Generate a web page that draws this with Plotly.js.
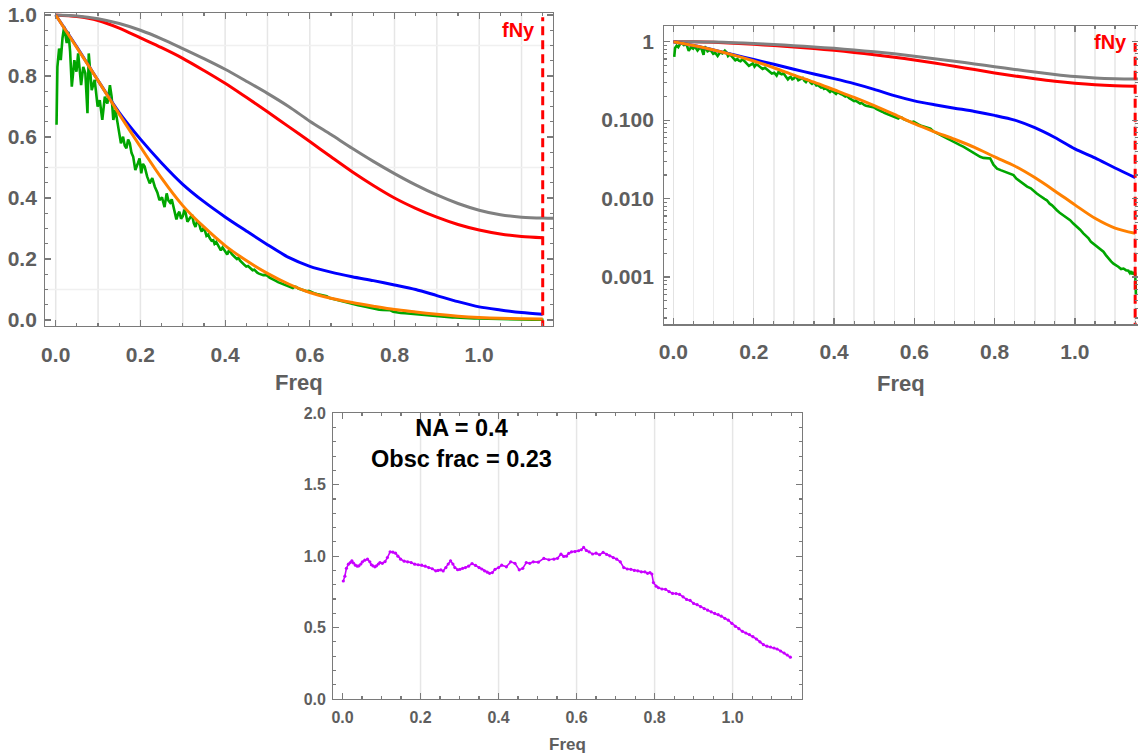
<!DOCTYPE html>
<html>
<head>
<meta charset="utf-8">
<script src="https://cdn.plot.ly/plotly-3.0.1.min.js"></script>
<style>html,body{margin:0;padding:0;background:#fff}#chart{width:1138px;height:756px}</style>
</head>
<body>
<div id="chart"></div>
<script>
// ---------------- data ----------------
const fNy = 1.15;
const modelFreq = [0,0.05,0.1,0.15,0.2,0.25,0.3,0.35,0.4,0.45,0.5,0.55,0.6,0.65,0.7,0.75,0.8,0.85,0.9,0.95,1.0,1.05,1.1,1.15];
const grayFreq  = [0,0.05,0.1,0.15,0.2,0.25,0.3,0.35,0.4,0.45,0.5,0.55,0.6,0.65,0.7,0.75,0.8,0.85,0.9,0.95,1.0,1.05,1.1,1.15,1.18];
const grayMTF   = [1.0,0.997,0.988,0.972,0.950,0.922,0.890,0.857,0.822,0.783,0.743,0.700,0.652,0.608,0.563,0.520,0.480,0.443,0.410,0.382,0.360,0.345,0.337,0.334,0.334];
const redMTF    = [1.0,0.995,0.982,0.957,0.925,0.893,0.858,0.818,0.776,0.730,0.683,0.634,0.585,0.535,0.486,0.441,0.400,0.366,0.337,0.313,0.295,0.282,0.274,0.270];
const blueMTF   = [1.0,0.895,0.785,0.680,0.593,0.515,0.445,0.388,0.338,0.292,0.247,0.205,0.176,0.157,0.142,0.129,0.115,0.100,0.080,0.060,0.043,0.033,0.0245,0.0185];
const orangeMTF = [1.0,0.893,0.785,0.675,0.568,0.465,0.375,0.305,0.244,0.195,0.153,0.118,0.090,0.071,0.057,0.045,0.034,0.026,0.0185,0.0125,0.0083,0.0056,0.0042,0.0036];

const greenFreq = [0.002,0.004,0.008,0.012,0.016,0.020,0.026,0.030,0.034,0.038,0.044,0.049,0.053,0.060,0.065,0.070,0.075,0.078,0.085,0.092,0.099,0.104,0.110,0.116,0.122,0.128,0.132,0.136,0.141,0.147,0.154,0.159,0.163,0.167,0.171,0.175,0.179,0.183,0.188,0.194,0.198,0.202,0.206,0.210,0.216,0.222,0.228,0.234,0.240,0.245,0.251,0.257,0.262,0.266,0.270,0.274,0.278,0.282,0.285,0.289,0.292,0.296,0.300,0.304,0.307,0.311,0.315,0.319,0.322,0.326,0.330,0.334,0.338,0.342,0.345,0.349,0.352,0.356,0.360,0.364,0.368,0.372,0.375,0.379,0.383,0.387,0.390,0.394,0.398,0.402,0.405,0.409,0.412,0.416,0.420,0.424,0.428,0.432,0.435,0.438,0.442,0.446,0.450,0.454,0.458,0.462,0.465,0.469,0.472,0.476,0.480,0.485,0.490,0.495,0.500,0.505,0.510,0.515,0.520,0.525,0.530,0.535,0.540,0.545,0.550,0.555,0.560,0.564,0.568,0.573,0.578,0.583,0.588,0.593,0.598,0.604,0.610,0.617,0.625,0.632,0.640,0.647,0.655,0.662,0.670,0.680,0.690,0.697,0.705,0.714,0.723,0.731,0.740,0.748,0.756,0.764,0.772,0.780,0.789,0.797,0.806,0.815,0.825,0.836,0.847,0.854,0.860,0.866,0.872,0.881,0.890,0.897,0.905,0.911,0.918,0.924,0.930,0.937,0.943,0.949,0.955,0.962,0.970,0.979,0.988,0.996,1.005,1.013,1.021,1.027,1.034,1.040,1.046,1.052,1.058,1.064,1.071,1.077,1.084,1.090,1.096,1.102,1.108,1.115,1.121,1.127,1.133,1.137,1.140,1.143,1.146,1.148,1.150,1.152];
const greenMTF  = [0.64,0.83,0.89,0.852,0.924,0.962,0.908,0.945,0.88,0.765,0.852,0.814,0.874,0.77,0.83,0.809,0.678,0.874,0.754,0.787,0.70,0.721,0.656,0.732,0.71,0.77,0.732,0.656,0.689,0.634,0.579,0.601,0.572,0.563,0.592,0.579,0.548,0.535,0.492,0.514,0.530,0.481,0.512,0.503,0.470,0.448,0.465,0.437,0.418,0.393,0.402,0.37,0.415,0.392,0.385,0.396,0.37,0.352,0.33,0.348,0.355,0.332,0.34,0.362,0.35,0.322,0.33,0.341,0.345,0.318,0.305,0.325,0.32,0.298,0.29,0.302,0.295,0.276,0.28,0.268,0.26,0.262,0.25,0.256,0.245,0.236,0.228,0.238,0.23,0.218,0.215,0.228,0.225,0.216,0.212,0.205,0.2,0.204,0.195,0.19,0.185,0.18,0.175,0.177,0.172,0.166,0.163,0.165,0.159,0.155,0.152,0.15,0.147,0.148,0.145,0.139,0.136,0.133,0.128,0.124,0.121,0.119,0.116,0.113,0.11,0.107,0.105,0.109,0.108,0.103,0.101,0.099,0.097,0.094,0.0954,0.091,0.088,0.085,0.082,0.080,0.078,0.072,0.069,0.066,0.063,0.059,0.0556,0.053,0.050,0.048,0.0457,0.043,0.040,0.038,0.0357,0.034,0.033,0.033,0.0324,0.027,0.0241,0.023,0.022,0.0205,0.0199,0.018,0.017,0.0163,0.0155,0.0142,0.0135,0.0124,0.0116,0.0110,0.0103,0.0099,0.0095,0.0086,0.0082,0.0075,0.0071,0.0066,0.0062,0.0057,0.0053,0.0048,0.0044,0.0040,0.0036,0.0034,0.0031,0.0028,0.00266,0.0025,0.0024,0.00225,0.0021,0.0019,0.0017,0.00158,0.00148,0.00142,0.00135,0.00126,0.00128,0.00122,0.0012,0.00112,0.00118,0.00108,0.00115,0.0011,0.0011,0.0006];

const ratioFreq = [0.002,0.006,0.010,0.015,0.020,0.024,0.028,0.033,0.038,0.042,0.047,0.051,0.057,0.064,0.070,0.074,0.078,0.083,0.087,0.092,0.096,0.102,0.109,0.115,0.122,0.129,0.136,0.142,0.149,0.158,0.167,0.176,0.185,0.194,0.203,0.212,0.221,0.230,0.239,0.245,0.252,0.258,0.265,0.271,0.277,0.283,0.288,0.295,0.301,0.308,0.315,0.323,0.332,0.341,0.350,0.357,0.364,0.371,0.377,0.384,0.391,0.400,0.408,0.420,0.431,0.442,0.453,0.462,0.471,0.480,0.489,0.502,0.516,0.529,0.542,0.551,0.560,0.567,0.574,0.580,0.587,0.596,0.605,0.612,0.618,0.625,0.632,0.641,0.650,0.659,0.668,0.677,0.685,0.694,0.703,0.712,0.721,0.730,0.739,0.748,0.757,0.766,0.775,0.782,0.788,0.793,0.797,0.804,0.810,0.819,0.828,0.837,0.846,0.855,0.864,0.873,0.882,0.891,0.900,0.909,0.918,0.927,0.936,0.945,0.954,0.963,0.971,0.980,0.989,0.998,1.007,1.016,1.025,1.034,1.043,1.052,1.061,1.070,1.079,1.088,1.097,1.106,1.114,1.123,1.132,1.140,1.148];
const ratioVal  = [0.826,0.86,0.915,0.944,0.955,0.967,0.952,0.937,0.930,0.932,0.945,0.960,0.972,0.979,0.960,0.940,0.932,0.925,0.932,0.945,0.955,0.950,0.962,0.990,1.030,1.028,1.021,1.000,0.979,0.965,0.960,0.955,0.944,0.940,0.937,0.930,0.920,0.912,0.897,0.900,0.904,0.896,0.920,0.945,0.967,0.945,0.920,0.905,0.908,0.915,0.920,0.930,0.948,0.935,0.920,0.910,0.897,0.888,0.880,0.885,0.908,0.920,0.937,0.925,0.960,0.950,0.904,0.915,0.955,0.950,0.960,0.958,0.984,0.975,0.979,0.985,1.014,0.998,1.000,1.020,1.030,1.032,1.038,1.045,1.061,1.040,1.030,1.015,1.021,1.010,1.026,1.012,1.002,0.990,0.979,0.960,0.920,0.910,0.908,0.900,0.897,0.890,0.890,0.880,0.885,0.875,0.815,0.790,0.779,0.770,0.768,0.752,0.739,0.738,0.732,0.715,0.697,0.690,0.669,0.660,0.646,0.633,0.622,0.610,0.599,0.590,0.580,0.565,0.552,0.530,0.509,0.492,0.474,0.462,0.451,0.436,0.420,0.400,0.380,0.370,0.364,0.357,0.350,0.336,0.322,0.308,0.293];

// faint reference lines seen in the source
const linGridX = [0,0.1,0.2,0.3,0.4,0.5,0.6,0.7,0.8,0.9,1.0,1.1];
const linGridY = [0.1,0.5,0.9];
const logGridY = [0.64,0.091,0.074,0.021,0.0042,0.003,0.0005];
const ratioGridX = [0.2,0.4,0.6,0.8,1.0];
const logTickVals = [1,0.1,0.01,0.001];
const logTickText = ['1','0.100','0.010','0.001'];

// ---------------- styles ----------------
const FONT = 'Liberation Sans, Arial, sans-serif';
const LABEL = '#5e5e5e';
const FRAME = '#7a7a7a';
const C = {gray:'#808080', red:'#ff0000', blue:'#0000ff', orange:'#ff8000', green:'#00a600', purple:'#c800ff'};

function curves(xa, ya, w) {
  return [
    {x: greenFreq, y: greenMTF, mode:'lines', line:{color:C.green, width:2.6}, xaxis:xa, yaxis:ya, name:'measured'},
    {x: modelFreq, y: redMTF, mode:'lines', line:{color:C.red, width:w, shape:'spline', smoothing:0.8}, xaxis:xa, yaxis:ya, name:'red'},
    {x: grayFreq, y: grayMTF, mode:'lines', line:{color:C.gray, width:w, shape:'spline', smoothing:0.8}, xaxis:xa, yaxis:ya, name:'gray'},
    {x: modelFreq, y: blueMTF, mode:'lines', line:{color:C.blue, width:w, shape:'spline', smoothing:0.8}, xaxis:xa, yaxis:ya, name:'blue'},
    {x: modelFreq, y: orangeMTF, mode:'lines', line:{color:C.orange, width:w, shape:'spline', smoothing:0.8}, xaxis:xa, yaxis:ya, name:'orange'}
  ];
}

const traces = [].concat(
  curves('x','y',3),
  [{x:[fNy,fNy], y:[-0.03,0.993], mode:'lines', line:{color:C.red, width:3, dash:'9px,5px'}, xaxis:'x', yaxis:'y', name:'fNy'}],
  curves('x2','y2',3),
  [{x:[fNy,fNy], y:[0.0002,0.96], mode:'lines', line:{color:C.red, width:3, dash:'9px,5px'}, xaxis:'x2', yaxis:'y2', name:'fNy'}],
  [{x: ratioFreq, y: ratioVal, mode:'lines+markers', line:{color:C.purple, width:1.6}, marker:{color:C.purple, size:3.2}, xaxis:'x3', yaxis:'y3', name:'ratio'}]
);

const logMinor = [];
[-4,-3,-2,-1,0].forEach(d => { for (let k = 2; k <= 9; k++) logMinor.push(k * Math.pow(10, d)); });

function ax(extra, fsize) {
  return Object.assign({
    showline:true, linecolor:FRAME, linewidth:1.2, mirror:'allticks',
    ticks:'inside', ticklen:6, tickwidth:1.2, tickcolor:FRAME,
    zeroline:false, showgrid:false, fixedrange:true, automargin:false,
    tickfont:{family:FONT, size:fsize, color:LABEL, weight:'bold'}
  }, extra);
}

const shapes = [];
linGridX.forEach(v => shapes.push({type:'line', layer:'below', xref:'x', yref:'y domain', x0:v, x1:v, y0:0, y1:1, line:{color:'#e6e6e6', width:1.5}}));
linGridY.forEach(v => shapes.push({type:'line', layer:'below', xref:'x domain', yref:'y', x0:0, x1:1, y0:v, y1:v, line:{color:'#f0f0f0', width:1.5}}));
logGridY.forEach(v => shapes.push({type:'line', layer:'below', xref:'x2 domain', yref:'y2', x0:0, x1:1, y0:Math.log10(v), y1:Math.log10(v), line:{color:'#f0f0f0', width:1.5}}));
ratioGridX.forEach(v => shapes.push({type:'line', layer:'below', xref:'x3', yref:'y3 domain', x0:v, x1:v, y0:0, y1:1, line:{color:'#e6e6e6', width:1.5}}));

const layout = {
  width:1138, height:756,
  margin:{l:0, r:0, t:0, b:0},
  paper_bgcolor:'#ffffff', plot_bgcolor:'#ffffff',
  showlegend:false,
  xaxis: ax({domain:[0.0398,0.4862], range:[-0.0246,1.175], anchor:'y', tick0:0, dtick:0.2, tickformat:'.1f', ticklabelstandoff:9,
             minor:{tick0:0, dtick:0.05, ticks:'inside', ticklen:3, tickcolor:FRAME, showgrid:false}}, 21),
  yaxis: ax({domain:[0.5684,0.9824], range:[-0.0207,1.0056], anchor:'x', tick0:0, dtick:0.2, tickformat:'.1f', ticklabelstandoff:3,
             minor:{tick0:0, dtick:0.05, ticks:'inside', ticklen:3, tickcolor:FRAME, showgrid:false}}, 21),
  xaxis2: ax({domain:[0.5837,0.9999], range:[-0.0229,1.1568], anchor:'y2', tick0:0, dtick:0.2, tickformat:'.1f', ticklabelstandoff:8,
              showgrid:true, gridcolor:'#e2e2e2', gridwidth:1.5,
              minor:{tick0:0, dtick:0.05, ticks:'inside', ticklen:3, tickcolor:FRAME, showgrid:true, gridcolor:'#ececec', gridwidth:1.5}}, 21),
  yaxis2: ax({domain:[0.571,0.9656], type:'log', range:[-3.604,0.2], anchor:'x2', tickmode:'array', tickvals:logTickVals, ticktext:logTickText, ticklabelstandoff:5,
              minor:{tickmode:'array', tickvals:logMinor, ticks:'inside', ticklen:3, tickcolor:FRAME, showgrid:false}}, 21),
  xaxis3: ax({domain:[0.2929,0.7047], range:[-0.0236,1.1777], anchor:'y3', tick0:0, dtick:0.2, tickformat:'.1f', ticklabelstandoff:4,
              minor:{tick0:0, dtick:0.05, ticks:'inside', ticklen:3, tickcolor:FRAME, showgrid:false}}, 16),
  yaxis3: ax({domain:[0.0754,0.4533], range:[0,2], anchor:'x3', tick0:0, dtick:0.5, tickformat:'.1f', ticklabelstandoff:3,
              minor:{tick0:0, dtick:0.1, ticks:'inside', ticklen:3, tickcolor:FRAME, showgrid:false}}, 16),
  shapes: shapes,
  annotations: [
    {text:'fNy', x:fNy, y:0.951, xref:'x', yref:'y', xanchor:'right', yanchor:'middle', xshift:-6, showarrow:false,
     font:{family:FONT, size:20, color:C.red, weight:'bold'}},
    {text:'fNy', x:fNy, y:0, xref:'x2', yref:'y2', xanchor:'right', yanchor:'middle', xshift:-6, showarrow:false,
     font:{family:FONT, size:20, color:C.red, weight:'bold'}},
    {text:'NA = 0.4<br>Obsc frac = 0.23', x:0.304, y:1.79, xref:'x3', yref:'y3', xanchor:'center', yanchor:'middle', showarrow:false,
     font:{family:FONT, size:23.5, color:'#000000', weight:'bold'}},
    {text:'Freq', x:0.5, y:-0.181, xref:'x domain', yref:'y domain', xanchor:'center', yanchor:'middle', showarrow:false,
     font:{family:FONT, size:22, color:LABEL, weight:'bold'}},
    {text:'Freq', x:0.5, y:-0.197, xref:'x2 domain', yref:'y2 domain', xanchor:'center', yanchor:'middle', showarrow:false,
     font:{family:FONT, size:22, color:LABEL, weight:'bold'}},
    {text:'Freq', x:0.5, y:-0.161, xref:'x3 domain', yref:'y3 domain', xanchor:'center', yanchor:'middle', showarrow:false,
     font:{family:FONT, size:17, color:LABEL, weight:'bold'}}
  ]
};

Plotly.newPlot('chart', traces, layout, {displayModeBar:false, staticPlot:true});
</script>
</body>
</html>
